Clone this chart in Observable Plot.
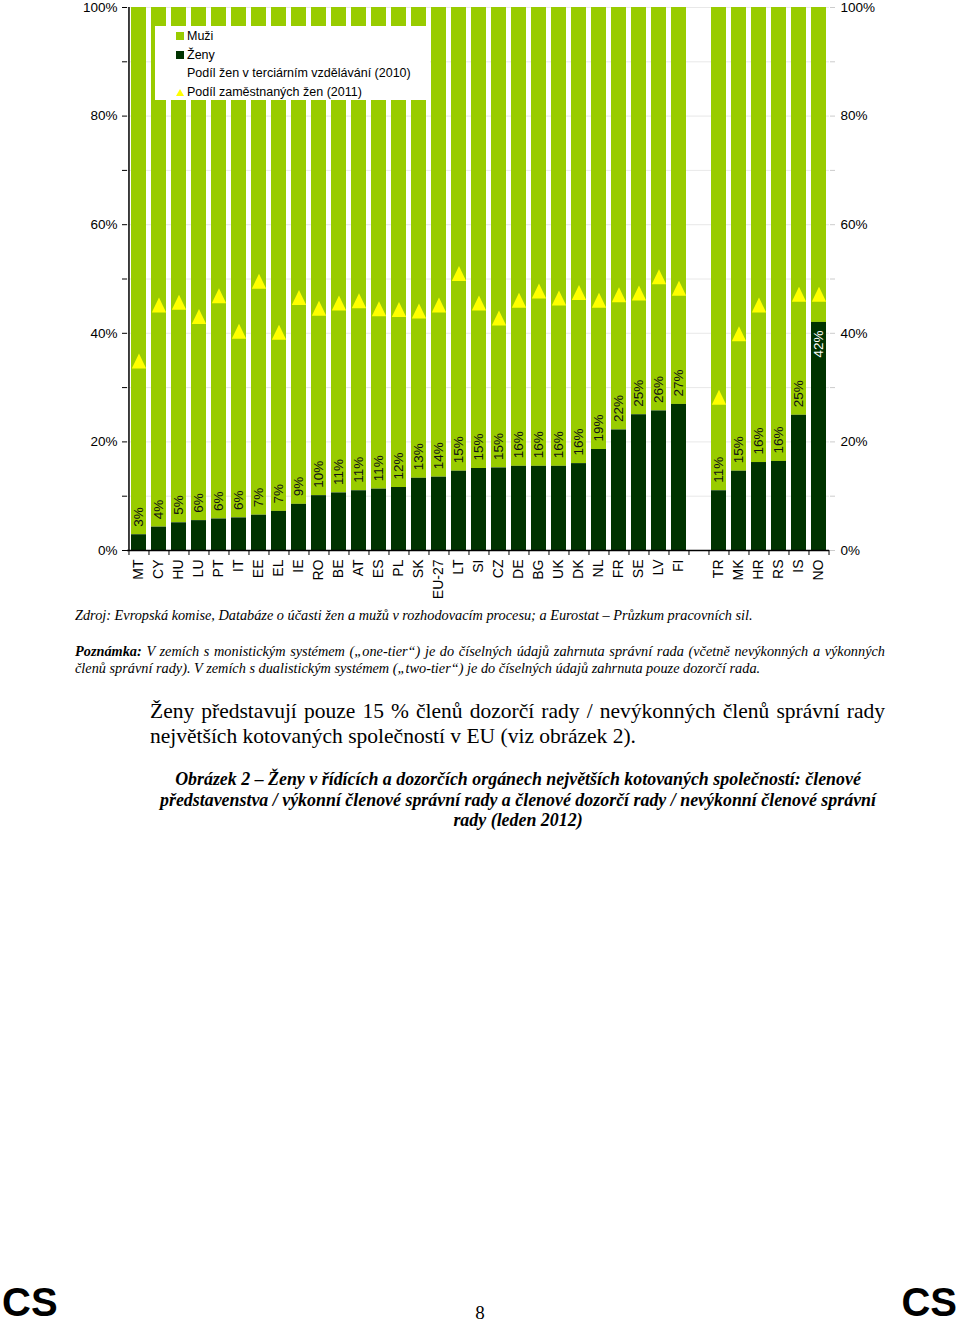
<!DOCTYPE html>
<html><head><meta charset="utf-8">
<script src="https://cdn.jsdelivr.net/npm/d3@7"></script>
<script src="https://cdn.jsdelivr.net/npm/@observablehq/plot@0.6"></script>
<style>
html,body{margin:0;padding:0;background:#fff}
body{width:960px;height:1323px;position:relative;overflow:hidden}
#chart{position:absolute;left:0;top:0}
.abs{position:absolute}
.sans{font-family:"Liberation Sans",Arial,sans-serif;color:#000}
.serif{font-family:"Liberation Serif","Times New Roman",serif;color:#000}
#legend{left:155px;top:26px;width:275px;height:74px;background:#fff;font-size:12.5px}
#legend .row{position:absolute;left:21px;height:14px;line-height:14px;white-space:nowrap}
#legend .sw{display:inline-block;width:8px;height:8px;margin-right:3px;vertical-align:0px}
#legend .tri{display:inline-block;width:0;height:0;border-left:4px solid transparent;border-right:4px solid transparent;border-bottom:7px solid #ffff00;margin-right:3px;vertical-align:0px}
.j{text-align:justify;text-align-last:justify}
</style></head><body>
<div id="chart"></div>
<div id="legend" class="abs sans"></div>
<div class="abs serif" style="left:75px;top:606px;font-size:14.3px;font-style:italic;white-space:nowrap;line-height:18px">Zdroj: Evropská komise, Databáze o účasti žen a mužů v rozhodovacím procesu; a Eurostat – Průzkum pracovních sil.</div>
<div class="abs serif" style="left:75px;top:643px;width:810px;font-size:14.3px;font-style:italic;line-height:17px">
<div class="j"><b>Poznámka:</b> V zemích s monistickým systémem („one-tier“) je do číselných údajů zahrnuta správní rada (včetně nevýkonných a výkonných</div>
<div style="white-space:nowrap">členů správní rady). V zemích s dualistickým systémem („two-tier“) je do číselných údajů zahrnuta pouze dozorčí rada.</div>
</div>
<div class="abs serif" style="left:150px;top:699px;width:735px;font-size:21.5px;line-height:25px">
<div class="j">Ženy představují pouze 15 % členů dozorčí rady / nevýkonných členů správní rady</div>
<div style="white-space:nowrap">největších kotovaných společností v EU (viz obrázek 2).</div>
</div>
<div class="abs serif" style="left:130px;top:769px;width:776px;font-size:17.9px;line-height:20.5px;font-weight:bold;font-style:italic;text-align:center">
<div style="white-space:nowrap">Obrázek 2 – Ženy v řídících a dozorčích orgánech největších kotovaných společností: členové</div>
<div style="white-space:nowrap">představenstva / výkonní členové správní rady a členové dozorčí rady / nevýkonní členové správní</div>
<div>rady (leden 2012)</div>
</div>
<div class="abs sans" style="left:2px;top:1284px;font-size:40px;font-weight:bold;line-height:36px">CS</div>
<div class="abs sans" style="right:3px;top:1284px;font-size:40px;font-weight:bold;line-height:36px">CS</div>
<div class="abs serif" style="left:470px;width:20px;text-align:center;top:1302px;font-size:19px;line-height:22px">8</div>
<script>
// ---- data ----
const countries = ["MT","CY","HU","LU","PT","IT","EE","EL","IE","RO","BE","AT","ES","PL","SK","EU-27","LT","SI","CZ","DE","BG","UK","DK","NL","FR","SE","LV","FI"," ","TR","MK","HR","RS","IS","NO"];
const women = [2.9,4.3,5.1,5.5,5.8,6.0,6.5,7.2,8.5,10.1,10.6,11.0,11.3,11.6,13.3,13.5,14.6,15.1,15.2,15.5,15.5,15.5,16.0,18.6,22.2,25.0,25.7,26.9,null,11.0,14.6,16.2,16.4,24.9,42.0];
const employment = [34.9,45.2,45.7,43.1,46.9,40.4,49.6,40.2,46.6,44.6,45.6,46.0,44.5,44.4,44.1,45.2,51.0,45.6,42.8,46.1,47.8,46.5,47.5,46.1,47.1,47.4,50.4,48.3,null,28.2,39.9,45.2,null,47.2,47.2];
const yTicks = [0,10,20,30,40,50,60,70,80,90,100];
const legendItems = [
  {label:"Muži", kind:"square", color:"#99cc00"},
  {label:"Ženy", kind:"square", color:"#003300"},
  {label:"Podíl žen v terciárním vzdělávání (2010)", kind:"none", color:null},
  {label:"Podíl zaměstnaných žen (2011)", kind:"triangle", color:"#ffff00"}
];

const LIGHT = "#99cc00", DARK = "#003300", YELLOW = "#ffff00";
const rows = countries.map((c,i)=>({country:c, women:women[i], employment:employment[i]}));
const barRows = rows.filter(d=>d.women!=null);
const triRows = rows.filter(d=>d.employment!=null);

const W = 960, ML = 127, MR = 131;
const step = (W - ML - MR) / countries.length;

const triangle = {
  draw(context){ context.moveTo(0,-7.5); context.lineTo(7.2,7.5); context.lineTo(-7.2,7.5); context.closePath(); }
};

const chart = Plot.plot({
  width: W, height: 605,
  marginLeft: ML, marginRight: MR, marginTop: 7, marginBottom: 55,
  style: {fontFamily: '"Liberation Sans", Arial, sans-serif', fontSize: "13px", color: "#000", background: "transparent"},
  x: {domain: countries, paddingInner: 0.25, paddingOuter: 0.125, label: null},
  y: {domain: [0,100], label: null},
  marks: [
    Plot.gridY(yTicks, {stroke: "#d8d8d8", strokeOpacity: 0.6}),
    Plot.barY(barRows, {x: "country", y1: "women", y2: 100, fill: LIGHT}),
    Plot.barY(barRows, {x: "country", y1: 0, y2: "women", fill: DARK}),
    Plot.text(barRows.filter(d=>d.women < 40), {x: "country", y: "women", text: d=>Math.round(d.women)+"%", rotate: -90, textAnchor: "start", dy: -8, fill: "#111", fontSize: 13.5}),
    Plot.text(barRows.filter(d=>d.women >= 40), {x: "country", y: "women", text: d=>Math.round(d.women)+"%", rotate: -90, textAnchor: "end", dy: 8, fill: "#fff", fontSize: 13.5}),
    Plot.dot(triRows, {x: "country", y: "employment", symbol: triangle, fill: YELLOW, stroke: null}),
    Plot.ruleY([0], {stroke: "#000", strokeWidth: 1.5}),
    Plot.ruleX([countries[0]], {x: d=>d, dx: -step/2, stroke: "#000", strokeWidth: 1.5}),
    Plot.ruleX(countries, {x: d=>d, y1: 0, y2: 0, insetBottom: -5, dx: -step/2, stroke: "#000"}),
    Plot.ruleX([countries[countries.length-1]], {x: d=>d, y1: 0, y2: 0, insetBottom: -5, dx: step/2, stroke: "#000"}),
    Plot.axisY({anchor: "left", ticks: yTicks, tickSize: 5, tickPadding: 5, tickFormat: d => d % 20 === 0 ? d + "%" : "", fontSize: 13.5}),
    Plot.axisY({anchor: "right", ticks: yTicks, tickSize: 5, tickPadding: 6, stroke: "#cccccc", tickFormat: d => d % 20 === 0 ? d + "%" : "", fontSize: 13.5}),
    Plot.axisX({anchor: "bottom", tickSize: 0, tickPadding: 9, tickRotate: -90, fontSize: 14, tickFormat: d => d.trim()})
  ]
});
document.getElementById("chart").appendChild(chart);

// legend
const lg = document.getElementById("legend");
legendItems.forEach((it,i)=>{
  const r = document.createElement("div");
  r.className = "row";
  r.style.top = (3 + i*18.5) + "px";
  let mk;
  if (it.kind === "square") { mk = document.createElement("span"); mk.className = "sw"; mk.style.background = it.color; }
  else if (it.kind === "triangle") { mk = document.createElement("span"); mk.className = "tri"; }
  else { mk = document.createElement("span"); mk.className = "sw"; mk.style.background = "transparent"; }
  r.appendChild(mk);
  r.appendChild(document.createTextNode(it.label));
  lg.appendChild(r);
});
</script>
</body></html>
